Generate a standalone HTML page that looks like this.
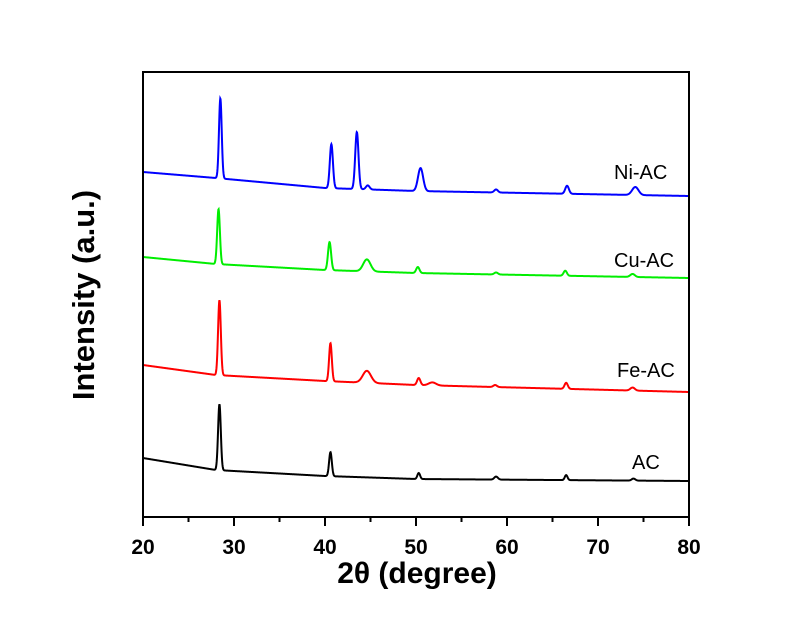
<!DOCTYPE html>
<html><head><meta charset="utf-8"><style>
body{margin:0;background:#fff;}
svg{display:block;font-family:"Liberation Sans",Arial,sans-serif;}
</style></head><body>
<svg id="chart" width="800" height="617" viewBox="0 0 800 617"></svg>
<script>
const xTicks=[20,30,40,50,60,70,80];
const xMinor=[25,35,45,55,65,75];
const seriesNames=["AC","Fe-AC","Cu-AC","Ni-AC"];
const seriesColors=["#000000","#ff0000","#00ee00","#0000ff"];
const baseAC=[[20,59],[28,47],[40,41],[50,38],[80,36]];
const baseFe=[[20,152],[28,142],[40,136],[50,132],[80,125]];
const baseCu=[[20,260],[28,253],[40,247],[50,244],[80,239]];
const baseNi=[[20,345],[28,339],[40,329],[50,326],[80,321]];
const peaksAC=[[28.4,66,0.15],[40.6,24,0.15],[50.3,6,0.15],[58.8,3,0.2],[66.5,5,0.15],[73.9,2,0.2]];
const peaksFe=[[28.4,75,0.15],[40.6,38,0.15],[44.6,12,0.45],[50.3,7,0.18],[51.8,3,0.4],[58.7,2,0.2],[66.5,6,0.18],[73.8,3,0.25]];
const peaksCu=[[28.3,55,0.15],[40.5,28,0.17],[44.6,12,0.4],[50.2,6,0.18],[58.8,2,0.2],[66.4,5,0.18],[73.8,3,0.25]];
const peaksNi=[[28.5,80,0.15],[40.7,44,0.17],[43.5,57,0.18],[44.7,4,0.2],[50.5,23,0.28],[58.8,3,0.2],[66.6,8,0.2],[74.1,8,0.35]];
const labelPos=[[632,469],[617,377],[614,267],[614,179]];

const L=143,R=689,T=72,B=517;
const xs=v=>L+(v-20)/(80-20)*(R-L);
const ys=v=>B-v*(B-T)/445;
const NS="http://www.w3.org/2000/svg";
const svg=document.getElementById('chart');
function mk(t,a){const e=document.createElementNS(NS,t);for(const k in a)e.setAttribute(k,a[k]);svg.appendChild(e);return e;}
function baseAt(b,x){for(let i=0;i<b.length-1;i++){if(x<=b[i+1][0]){const f=(x-b[i][0])/(b[i+1][0]-b[i][0]);return b[i][1]+f*(b[i+1][1]-b[i][1]);}}return b[b.length-1][1];}
const bases=[baseAC,baseFe,baseCu,baseNi];
const peaks=[peaksAC,peaksFe,peaksCu,peaksNi];
for(let s=0;s<4;s++){
  let d="";
  for(let x=20;x<=80.0001;x+=0.03){
    let v=baseAt(bases[s],x);
    for(const p of peaks[s]){v+=p[1]*Math.exp(-0.5*Math.pow((x-p[0])/p[2],2));}
    d+=(d?"L":"M")+xs(x).toFixed(2)+","+ys(v).toFixed(2);
  }
  const p=mk('path',{d:d,fill:'none',stroke:seriesColors[s],'stroke-width':2});
  
  
  const t=mk('text',{x:labelPos[s][0],y:labelPos[s][1],'font-size':20,fill:'#000'});
  t.textContent=seriesNames[s];
  
  
}
const fr=mk('rect',{x:L,y:T,width:R-L,height:B-T,fill:'none',stroke:'#000','stroke-width':2});


for(const v of xTicks){
  const l=mk('line',{x1:xs(v),x2:xs(v),y1:B,y2:B+9,stroke:'#000','stroke-width':2});
  
  
  const t=mk('text',{x:xs(v),y:554,'font-size':21,'font-weight':'bold','text-anchor':'middle'});
  t.textContent=v;
  
  
}
for(const v of xMinor){
  const l=mk('line',{x1:xs(v),x2:xs(v),y1:B,y2:B+5,stroke:'#000','stroke-width':2});
  
  
}
const xt=mk('text',{x:417,y:583,'font-size':30,'font-weight':'bold','text-anchor':'middle'});
xt.textContent="2θ (degree)";


const yt=mk('text',{x:0,y:0,'font-size':31,'font-weight':'bold','text-anchor':'middle',transform:'translate(94,295) rotate(-90)'});
yt.textContent="Intensity (a.u.)";


</script>
</body></html>
